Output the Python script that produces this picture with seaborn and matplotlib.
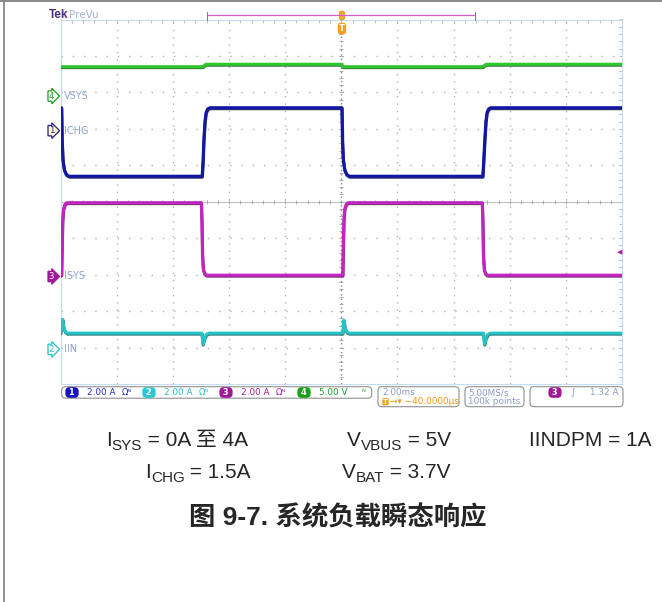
import matplotlib.pyplot as plt
import matplotlib.patheffects as pe
import matplotlib.transforms as mtransforms
import numpy as np
import pandas as pd
import seaborn as sns
from matplotlib.lines import Line2D
from matplotlib.patches import FancyBboxPatch

# Scope traces, time in ms (2 ms/div, trigger at 0)
vsys_t = [-10.0, -4.93, -4.83, 0.01, 0.06, 5.04, 5.16, 10.0]
vsys_v = [4.03, 4.03, 4.36, 4.36, 4.03, 4.03, 4.36, 4.36]  # V

ichg_t = [-10.0, -9.97, -9.95, -9.92, -9.87, -9.80, -9.70,
          -4.96, -4.93, -4.90, -4.86, -4.82, -4.76, -4.68,
          0.02, 0.04, 0.07, 0.12, 0.19, 0.29,
          5.04, 5.07, 5.11, 5.15, 5.19, 5.25, 5.33, 10.0]
ichg_v = [1.26, 1.26, -0.6, -1.6, -2.15, -2.4, -2.5,
          -2.5, -1.7, -0.5, 0.5, 1.0, 1.2, 1.26,
          1.26, -0.6, -1.6, -2.15, -2.4, -2.5,
          -2.5, -1.7, -0.5, 0.5, 1.0, 1.2, 1.26, 1.26]  # A

isys_t = [-10.0, -9.97, -9.95, -9.93, -9.90, -9.85, -9.78,
          -4.99, -4.97, -4.95, -4.92, -4.87, -4.80,
          0.05, 0.07, 0.09, 0.12, 0.17, 0.24,
          5.02, 5.04, 5.06, 5.09, 5.14, 5.21, 10.0]
isys_v = [0.07, 0.1, 1.8, 3.1, 3.7, 3.95, 4.05,
          4.05, 3.0, 1.2, 0.4, 0.15, 0.07,
          0.07, 1.8, 3.1, 3.7, 3.95, 4.05,
          4.05, 3.0, 1.2, 0.4, 0.15, 0.07, 0.07]  # A

iin_t = [-10.0, -9.96, -9.93, -9.89, -9.84, -9.77,
         -4.97, -4.93, -4.88, -4.81, -4.72,
         0.05, 0.09, 0.14, 0.20, 0.28,
         5.06, 5.10, 5.15, 5.22, 5.31, 10.0]
iin_v = [0.92, 1.3, 1.65, 1.2, 0.98, 0.89,
         0.89, 0.29, 0.6, 0.82, 0.89,
         0.89, 1.6, 1.15, 0.95, 0.89,
         0.89, 0.29, 0.6, 0.82, 0.89, 0.89]  # A

channel_names = ["VSYS", "ICHG", "ISYS", "IIN"]
channel_numbers = ["4", "1", "3", "2"]
channel_scales = [5.0, 2.0, 2.0, 2.0]  # units per division
channel_offsets = [2.9, 1.95, -2.05, -4.05]  # ground marker, divisions
trigger_level = 1.32  # A on ISYS

# status bar readout, channel 1..4
readout_numbers = ["1", "2", "3", "4"]
readout_scales = ["2.00 A", "2.00 A", "2.00 A", "5.00 V"]
time_per_div = "2.00ms"
trigger_delay = "\u221240.0000\u00b5s"
sample_rate = "5.00MS/s"
record_length = "100k points"
trigger_readout = "1.32 A"

# text under the screenshot
caption_row1 = [("I", "SYS", " = 0A 至 4A"), ("V", "VBUS", " = 5V"), ("IINDPM = 1A", "", "")]
caption_row2 = [("I", "CHG", " = 1.5A"), ("V", "BAT", " = 3.7V")]
title = "图 9-7. 系统负载瞬态响应"

sns.set_style("white")
plt.rcParams["font.family"] = ["DejaVu Sans", "Noto Sans CJK SC"]
plt.rcParams["lines.scale_dashes"] = False
cap_font = ["Liberation Sans", "Noto Sans CJK SC"]

W, H = 662, 602
fig = plt.figure(figsize=(W / 100, H / 100), dpi=100)
ident = mtransforms.IdentityTransform()

# scope graticule area (pixels from top-left)
gx0, gx1, gy0, gy1 = 60.7, 622.0, 19.5, 384.0
ax = fig.add_axes([gx0 / W, 1 - gy1 / H, (gx1 - gx0) / W, (gy1 - gy0) / H])
ax.set_xlim(-10, 10)
ax.set_ylim(-5, 5)

# dotted graticule
for xv in np.arange(-8, 9, 2):
    if xv != 0:
        ax.axvline(xv, color="#b0b0b0", lw=1.0, dashes=(1.0, 4.3), zorder=0)
for yv in np.arange(-4, 5, 1):
    if yv != 0:
        ax.axhline(yv, color="#b0b0b0", lw=1.0, dashes=(1.0, 7.1), zorder=0)
ax.axhline(0, color="#c4c4c4", lw=0.9, zorder=0)
ax.axvline(0, color="#888888", lw=1.0, dashes=(1.0, 2.2), zorder=0)
ax.plot(np.arange(-10, 10.01, 0.4), np.zeros(51), ls="none", marker="|",
        ms=3.5, mew=0.6, color="#a0a0a0", zorder=0)
ax.plot(np.zeros(51), np.arange(-5, 5.01, 0.2), ls="none", marker="_",
        ms=3.5, mew=0.6, color="#a0a0a0", zorder=0)

ax.set_xticks(np.arange(-10, 10.01, 0.4))
ax.set_yticks(np.arange(-5, 5.01, 0.2))
ax.tick_params(direction="in", length=2.5, width=0.6, color="#b0b0b0",
               top=True, right=True, labelbottom=False, labelleft=False)
for s in ax.spines.values():
    s.set_color("#c4dcf0")
    s.set_linewidth(0.8)

traces = [(vsys_t, vsys_v), (ichg_t, ichg_v), (isys_t, isys_v), (iin_t, iin_v)]
colors = ["#2ec82e", "#1218a4", "#c424c0", "#22c4c6"]
shadows = ["#0a5a0a", "#000048", "#5a005a", "#005050"]
marker_fc = ["white", "#fff6c8", "#a0189a", "white"]
marker_ec = ["#1ea01e", "#202090", "#a0189a", "#20c0c8"]
marker_tc = ["#1ea01e", "#202090", "white", "#20c0c8"]

for i, (t, v) in enumerate(traces):
    df = pd.DataFrame({"ms": t, "div": channel_offsets[i] + np.array(v) / channel_scales[i]})
    sns.lineplot(data=df, x="ms", y="div", sort=False, estimator=None,
                 color=colors[i], lw=2.2, ax=ax, zorder=3,
                 path_effects=[pe.SimpleLineShadow(offset=(0.2, -0.7), shadow_color=shadows[i], alpha=0.8),
                               pe.Normal()])
    # ground marker and channel label
    ax.text(-10.33, channel_offsets[i], channel_numbers[i], ha="center", va="center",
            fontsize=6.2, color=marker_tc[i], clip_on=False, zorder=5,
            bbox=dict(boxstyle="rarrow,pad=0.08", fc=marker_fc[i], ec=marker_ec[i], lw=0.9))
    ax.text(-9.9, channel_offsets[i], channel_names[i], ha="left", va="center",
            fontsize=7, color="#8ea2d2", zorder=7)

ax.set_xlabel("")
ax.set_ylabel("")

# trigger level arrow on ISYS
ax.text(9.9, channel_offsets[2] + trigger_level / channel_scales[2], "\u25c0",
        ha="center", va="center", fontsize=5, color="#b020a8", zorder=6)


def P(x, y):
    return x, H - y


# header: Tek PreVu, record view bar, trigger position
fig.text(*P(48.5, 15.5), "Tek", transform=ident, fontsize=8.5, fontweight="bold",
         color="#4b2c80", va="center", family="Liberation Sans")
fig.text(*P(68.5, 15.5), "PreVu", transform=ident, fontsize=7.5, color="#a8b4d8", va="center")
fig.add_artist(Line2D([207, 475], [H - 15.3] * 2, transform=ident, color="#d060c8", lw=0.9))
for xe in (207, 475):
    fig.add_artist(Line2D([xe, xe], [H - 11.5, H - 19.5], transform=ident, color="#808080", lw=0.8))
fig.add_artist(FancyBboxPatch(P(339.5, 20), 5, 9, boxstyle="round,pad=0,rounding_size=2",
                              transform=ident, fc="#f4a830", ec="#e08a10", lw=0.5))
fig.text(*P(342, 28.5), "T", transform=ident, ha="center", va="center", fontsize=6,
         fontweight="bold", color="white",
         bbox=dict(boxstyle="round,pad=0.15,rounding_size=0.3", fc="#f4a020", ec="none"))

# status bar boxes
boxes = [(61.7, 386.7, 310, 11.5), (378, 386.7, 81, 20), (465, 386.7, 59, 20), (530, 386.7, 93, 20)]
for bx, by, bw, bh in boxes:
    fig.add_artist(FancyBboxPatch(P(bx, by + bh), bw, bh, boxstyle="round,pad=0,rounding_size=4",
                                  transform=ident, fc="white", ec="#909090", lw=0.8))

badge_x = [72, 149, 226, 304]
badge_c = ["#1414c0", "#28c8d4", "#a0189a", "#18a018"]
text_c = ["#2030c0", "#30bcd0", "#a82098", "#22a022"]
for i in range(4):
    fig.text(*P(badge_x[i], 392.5), f" {readout_numbers[i]} ", transform=ident, ha="center",
             va="center", fontsize=6, fontweight="bold", color="white",
             bbox=dict(boxstyle="round,pad=0.1,rounding_size=0.5", fc=badge_c[i], ec="none"))
    fig.text(*P(badge_x[i] + 15, 392.5), readout_scales[i], transform=ident, va="center",
             fontsize=6.4, color=text_c[i])
    if i < 3:
        fig.text(*P(badge_x[i] + 50, 392.5), "\u03a9\u1d3a", transform=ident, va="center",
                 fontsize=6, color=text_c[i])
fig.text(*P(361, 392.5), "\u1d3a", transform=ident, va="center", fontsize=6, color="#22a022")

grey_blue = "#8c9cc8"
fig.text(*P(382, 392.7), time_per_div, transform=ident, va="center", fontsize=6.4, color=grey_blue)
fig.text(*P(383, 401.7), "T", transform=ident, va="center", fontsize=5, fontweight="bold", color="white",
         bbox=dict(boxstyle="round,pad=0.1,rounding_size=0.2", fc="#f4a020", ec="none"))
fig.text(*P(390, 401.7), "\u2192\u25be " + trigger_delay, transform=ident, va="center",
         fontsize=6.4, color="#f09818")
fig.text(*P(468, 392.7), sample_rate, transform=ident, va="center", fontsize=6.4, color=grey_blue)
fig.text(*P(468, 401.7), record_length, transform=ident, va="center", fontsize=6.4, color=grey_blue)
fig.text(*P(555, 392.5), " 3 ", transform=ident, ha="center", va="center", fontsize=6,
         fontweight="bold", color="white",
         bbox=dict(boxstyle="round,pad=0.1,rounding_size=0.5", fc="#a0189a", ec="none"))
fig.text(*P(570, 392.5), "\u222b", transform=ident, va="center", fontsize=6.5, color=grey_blue)
fig.text(*P(590, 392.5), trigger_readout, transform=ident, va="center", fontsize=6.4, color=grey_blue)

# page border (top and left)
fig.add_artist(Line2D([0, W], [H - 0.7, H - 0.7], transform=ident, color="#808080", lw=1.3))
fig.add_artist(Line2D([3.8, 3.8], [0, H], transform=ident, color="#808080", lw=1.2))

# caption text with subscripts
renderer = fig.canvas.get_renderer()


def caption(x, y, main, sub, rest):
    t = fig.text(*P(x, y), main, transform=ident, fontsize=15, family=cap_font, va="baseline")
    xe = t.get_window_extent(renderer).x1
    if sub:
        t = fig.text(xe, H - y - 4, sub, transform=ident, fontsize=11, family=cap_font, va="baseline")
        xe = t.get_window_extent(renderer).x1
    if rest:
        fig.text(xe, H - y, rest, transform=ident, fontsize=15, family=cap_font, va="baseline")


for (m, s, r), x in zip(caption_row1, [106, 347, 529]):
    caption(x, 446, m, s, r)
for (m, s, r), x in zip(caption_row2, [145, 342]):
    caption(x, 478, m, s, r)

fig.text(*P(189, 525), title, transform=ident, fontsize=19, fontweight="bold",
         family=cap_font, va="baseline")

fig.savefig("out.png", dpi=100)
